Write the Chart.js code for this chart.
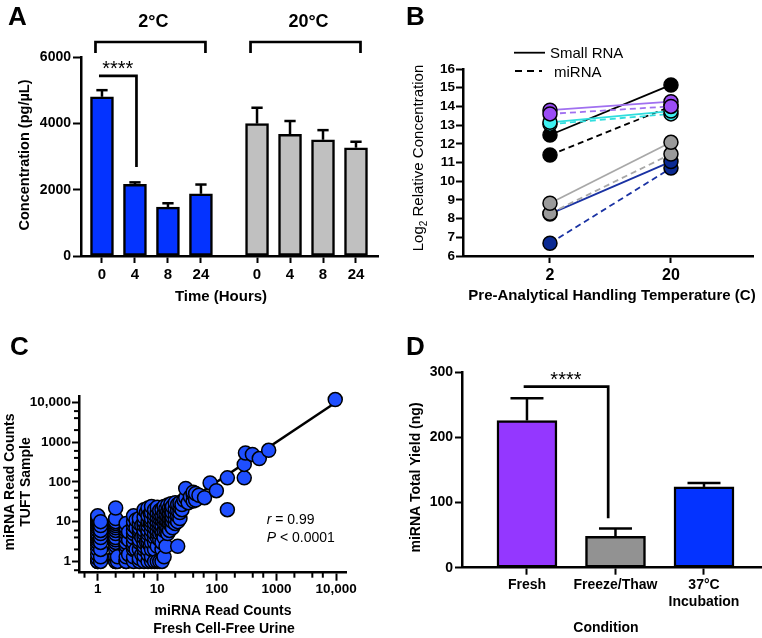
<!DOCTYPE html>
<html><head><meta charset="utf-8">
<script src="https://cdn.jsdelivr.net/npm/chart.js@4.4.1/dist/chart.umd.min.js"></script>
<style>
html,body{margin:0;padding:0;background:#fff;}
#wrap{position:relative;width:762px;height:638px;overflow:hidden;background:#fff;}
canvas{position:absolute;}
</style></head><body>
<div id="wrap">
<canvas id="cA" width="381" height="310" style="left:0;top:0"></canvas>
<canvas id="cB" width="381" height="310" style="left:381px;top:0"></canvas>
<canvas id="cC" width="381" height="318" style="left:0;top:320px"></canvas>
<canvas id="cD" width="381" height="318" style="left:381px;top:320px"></canvas>
</div>
<script>
// ---------------- DATA ----------------
// Panel A
const aHours = ['0','4','8','24'];
const aTemps = ['2°C','20°C'];
const a2C = [4800, 2160, 1475, 1875];
const a2CErr = [200, 60, 115, 280];
const a20C = [3990, 3670, 3505, 3265];
const a20CErr = [480, 400, 290, 180];

// Panel B
const bTemps = ['2','20'];
const bLegend = ['Small RNA','miRNA'];
const bSmallBlack = [12.47, 15.15];
const bMiBlack = [11.4, 14.0];
const bSmallNavy = [8.25, 11.05];
const bMiNavy = [6.68, 10.7];
const bSmallGray = [8.82, 12.08];
const bMiGray = [8.28, 11.45];
const bSmallCyan = [13.15, 13.75];
const bMiCyan = [13.05, 13.6];
const bSmallPurple = [13.8, 14.25];
const bMiPurple = [13.6, 14.0];

// Panel C (miRNA read counts: fresh cell-free urine vs TUFT sample)
const cTicks = [1, 10, 100, 1000, 10000];
const cTickLabels = ['1','10','100','1000','10,000'];
const cFresh = [
 1,1,1,1,1,1,1,1,1,1,1,1,1,1,1,1,1,1,1,1,
 1.12,1.12,1.12,1.12,1.12,1.12,1.12,1.12,1.12,
 2,2,2,2,2,2,2,2,2,2,2,2,2,2,2,2,
 2.15,2.15,
 3,3,3,3,3,3,3,3,3,3,3,
 3.3,3.3,3.3,
 4,4,4,4,4,4,4,4,4,4,4,
 4.4,4.4,4.4,
 5,5,5,5,5,5,5,5,5,5,
 5.5,5.5,5.5,
 6,6,6,6,6,6,6,6,6,6,6,6,
 6.6,6.6,6.6,
 7,7,7,7,7,7,7,7,7,7,7,
 7.6,7.6,7.6,
 8,8,8,8,8,8,8,8,8,8,8,
 9,9,9,9,9,9,9,9,9,9,
 10,10,10,10,10,10,10,10,10,10,
 11,11,11,11,11,11,11,11,
 12,12,12,12,12,12,12,12,12,
 13,13,13,13,13,13,13,
 14,14,14,14,14,14,
 15,15,15,15,15,15,
 16,16,16,16,16,
 17,17,17,17,17,
 18,18,18,18,18,
 20,20,20,20,20,
 22,22,22,22,22,
 24,24,24,24,
 26,26,28,30,30,33,36,40,40,40,44,44,50,62,77,98,150,150,288,288,302,395,515,740,9700
];
const cTuft = [
 1,1,1.2,1.5,2,2.5,3,3.5,4,4.5,5,6,7,8,9,10,11,12,13,14,
 1,1.3,2,3,4,5,6,8,10,
 1,1,1.3,2,2.5,3,3.5,4,5,6,7,8,9,10,12,22,
 1,1.3,
 1,1,1.3,2,2.5,3,4,5,6,7,9,
 1.5,3.5,5.5,
 1,1.3,2,2.4,3,4,5,6,8,10,14,
 2,7,11,
 1,1.2,2,3,3.5,5,6,7,9,12,
 1.5,4,8,
 1,1.4,2,2.4,3,4,5,6,8,10,13,20,
 3,7,17,
 1,1.5,2,3,4,5,6,8,10,14,22,
 2.5,9,16,
 1,1.3,2,3,4.5,6,8,10,12,17,24,
 1,2,3,4,5,7,9,12,15,20,
 1,2.4,4,5,6,8,10,13,17,23,
 1,3.5,5,7,9,12,15,19,
 1,2,3,5,6,8,11,14,20,
 1.3,4,6,9,12,16,24,
 2.4,6,8,11,15,21,
 5,7,10,13,18,26,
 6,9,12,16,22,
 8,11,14,19,28,
 7,10,13,17,24,
 9,12,16,21,30,
 2.4,10,14,19,27,
 12,17,23,30,
 20,27,35,40,68,30,42,33,48,55,35,51,46,40,94,60,20,126,126,275,530,490,385,620,11700
];
const cFitX = [1, 9300];
const cFitY = [1, 9300];

// Panel D
const dConditions = [['Fresh'], ['Freeze/Thaw'], ['37°C','Incubation']];
const dYield = [226, 48, 124];
const dErr = [34, 12, 6];

// ---------------- HELPERS ----------------
const FF = '"Liberation Sans", Arial, Helvetica, sans-serif';
Chart.defaults.font.family = FF;
Chart.defaults.color = '#000';
Chart.defaults.animation = false;

const gridOpts = (len) => ({display:true, drawOnChartArea:false, drawTicks:true, tickLength:len, tickWidth:2, tickColor:'#000', color:'#000', offset:false});
const borderOpts = {display:true, color:'#000', width:2.5};
const boldFont = (s) => ({family:FF, size:s, weight:'bold'});
const fixW = (w) => (s) => { s.width = w; };
const fixH = (h) => (s) => { s.height = h; };

function txt(ctx, s, x, y, font, align, base){
  ctx.font = font; ctx.textAlign = align || 'center'; ctx.textBaseline = base || 'alphabetic';
  ctx.fillStyle = '#000'; ctx.fillText(s, x, y);
}
function vtxt(ctx, s, x, y, font){
  ctx.save(); ctx.translate(x, y); ctx.rotate(-Math.PI/2);
  txt(ctx, s, 0, 0, font, 'center', 'middle'); ctx.restore();
}
function path(ctx, pts, lw, dash){
  ctx.beginPath();
  pts.forEach((p,i)=> i ? ctx.lineTo(p[0],p[1]) : ctx.moveTo(p[0],p[1]));
  ctx.lineWidth = lw; ctx.strokeStyle = '#000'; ctx.lineJoin = 'miter'; ctx.lineCap = 'butt';
  ctx.setLineDash(dash || []); ctx.stroke(); ctx.setLineDash([]);
}

const errorBars = {
  id: 'errorBars',
  afterDatasetsDraw(chart, args, opts){
    const ctx = chart.ctx, ys = chart.scales.y;
    chart.data.datasets.forEach((ds, i) => {
      if (!ds.errors) return;
      const meta = chart.getDatasetMeta(i);
      meta.data.forEach((el, j) => {
        const top = ys.getPixelForValue(ds.data[j].y + ds.errors[j]);
        const half = el.width * (opts.cap || 0.25);
        ctx.save();
        path(ctx, [[el.x, el.y], [el.x, top]], 2.5);
        path(ctx, [[el.x - half, top], [el.x + half, top]], 2.5);
        ctx.restore();
      });
    });
  }
};

// ---------------- PANEL A ----------------
const aGroupGap = 4.7;
const aPos = (g, i) => 1 + i + g * aGroupGap;
const aXs = [0,1].flatMap(g => aHours.map((h, i) => aPos(g, i)));

const extrasA = { id:'extrasA', afterDraw(chart){
  const ctx = chart.ctx, xs = chart.scales.x, ys = chart.scales.y;
  ctx.save();
  txt(ctx, 'A', 8, 25, 'bold 26px ' + FF, 'left');
  [0,1].forEach(g => {
    const x0 = xs.getPixelForValue(aPos(g,0)) - 6.5, x1 = xs.getPixelForValue(aPos(g,3)) + 4.5;
    path(ctx, [[x0,53],[x0,42],[x1,42],[x1,53]], 2.7);
    txt(ctx, aTemps[g], (x0+x1)/2 + 3, 26.5, 'bold 18px ' + FF);
  });
  const sx0 = xs.getPixelForValue(aPos(0,0)) - 3, sx1 = xs.getPixelForValue(aPos(0,1)) + 1.5;
  const sy = ys.getPixelForValue(5430), sy1 = ys.getPixelForValue(2680);
  path(ctx, [[sx0,sy],[sx1,sy],[sx1,sy1]], 2.7);
  txt(ctx, '****', (sx0+sx1)/2, sy - 0.5, '20px ' + FF);
  txt(ctx, 'Time (Hours)', 221, 301, 'bold 15px ' + FF);
  vtxt(ctx, 'Concentration (pg/µL)', 25, 155, 'bold 14.5px ' + FF);
  ctx.restore();
}};

new Chart(document.getElementById('cA'), {
  type: 'bar',
  data: { datasets: [
    { data: a2C.map((v,i)=>({x:aPos(0,i), y:v})), errors: a2CErr, backgroundColor: '#0433ff' },
    { data: a20C.map((v,i)=>({x:aPos(1,i), y:v})), errors: a20CErr, backgroundColor: '#c0c0c0' }
  ]},
  options: {
    responsive:false, animation:false, devicePixelRatio:1,
    layout: { padding: { left:0, top:57, right:3, bottom:0 } },
    datasets: { bar: { barThickness:23, borderColor:'#000', borderWidth:2.5, borderSkipped:false, grouped:false } },
    plugins: { legend:{display:false}, tooltip:{enabled:false}, errorBars:{cap:0.245} },
    scales: {
      x: { type:'linear', offset:false, min:0.364, max:9.367, grid:gridOpts(7), border:borderOpts,
           afterBuildTicks: s => { s.ticks = aXs.map(v => ({value:v})); },
           ticks: { autoSkip:false, maxRotation:0, padding:3, font:boldFont(15), callback:(v,i)=>aHours[i % aHours.length] },
           afterFit: fixH(54) },
      y: { min:0, max:6000, grid:gridOpts(8), border:borderOpts,
           ticks: { autoSkip:false, stepSize:2000, padding:2, font:boldFont(14), callback:v=>String(v) },
           afterFit: fixW(81) }
    }
  },
  plugins: [errorBars, extrasA]
});

// ---------------- PANEL B ----------------
const bSeries = [ // drawn bottom -> top
  { v:bSmallBlack,  line:'#000000', fill:'#000000', dash:false },
  { v:bMiBlack,     line:'#000000', fill:'#000000', dash:true },
  { v:bMiNavy,      line:'#1a32a3', fill:'#0b2a93', dash:true },
  { v:bSmallNavy,   line:'#1a32a3', fill:'#0b2a93', dash:false },
  { v:bMiGray,      line:'#a8a8a8', fill:'#9a9a9a', dash:true },
  { v:bSmallGray,   line:'#a8a8a8', fill:'#9a9a9a', dash:false },
  { v:bMiCyan,      line:'#2fdede', fill:'#3ef2f2', dash:true },
  { v:bSmallCyan,   line:'#2fdede', fill:'#3ef2f2', dash:false },
  { v:bSmallPurple, line:'#a070f0', fill:'#9b4cf5', dash:false },
  { v:bMiPurple,    line:'#a070f0', fill:'#9b4cf5', dash:true }
];

const extrasB = { id:'extrasB', afterDraw(chart){
  const ctx = chart.ctx;
  ctx.save();
  txt(ctx, 'B', 25, 25, 'bold 26px ' + FF, 'left');
  path(ctx, [[133,52.7],[164,52.7]], 1.8);
  path(ctx, [[134,71],[161,71]], 1.8, [7,5]);
  txt(ctx, bLegend[0], 169, 58.3, '15px ' + FF, 'left');
  txt(ctx, bLegend[1], 173, 76.7, '15px ' + FF, 'left');
  txt(ctx, 'Pre-Analytical Handling Temperature (C)', 231, 299.5, 'bold 15px ' + FF);
  // rotated y title with subscript
  ctx.translate(42.4, 158); ctx.rotate(-Math.PI/2);
  ctx.fillStyle = '#000'; ctx.textBaseline = 'alphabetic'; ctx.textAlign = 'left';
  const fMain = '15px ' + FF, fSub = '10px ' + FF;
  ctx.font = fMain; const w1 = ctx.measureText('Log').width, w3 = ctx.measureText(' Relative Concentration').width;
  ctx.font = fSub; const w2 = ctx.measureText('2').width;
  let x0 = -(w1 + w2 + w3) / 2;
  ctx.font = fMain; ctx.fillText('Log', x0, 0);
  ctx.font = fSub; ctx.fillText('2', x0 + w1, 3.5);
  ctx.font = fMain; ctx.fillText(' Relative Concentration', x0 + w1 + w2, 0);
  ctx.restore();
}};

new Chart(document.getElementById('cB'), {
  type: 'line',
  data: { datasets: bSeries.map((s, k) => ({
    data: s.v.map((y,i)=>({x:i, y:y})),
    borderColor: s.line, borderWidth: 1.8, borderDash: s.dash ? [6,4] : [],
    pointRadius: 7, pointHoverRadius: 7, pointBackgroundColor: s.fill, pointBorderColor: '#000', pointBorderWidth: 1.5,
    order: bSeries.length - k, clip: false
  }))},
  options: {
    responsive:false, animation:false, devicePixelRatio:1,
    layout: { padding: { left:0, top:69, right:9, bottom:0 } },
    plugins: { legend:{display:false}, tooltip:{enabled:false} },
    scales: {
      x: { type:'linear', min:-0.719, max:1.678, grid:gridOpts(7), border:borderOpts,
           afterBuildTicks: s => { s.ticks = bTemps.map((t,i) => ({value:i})); },
           ticks: { autoSkip:false, maxRotation:0, padding:3, font:boldFont(16), callback:(v,i)=>bTemps[i] },
           afterFit: fixH(54) },
      y: { min:6, max:16, grid:gridOpts(7), border:borderOpts,
           ticks: { autoSkip:false, stepSize:1, padding:1, font:boldFont(13.5), callback:v=>String(v) },
           afterFit: fixW(82) }
    }
  },
  plugins: [extrasB]
});

// ---------------- PANEL C ----------------
const extrasC = { id:'extrasC', afterDraw(chart){
  const ctx = chart.ctx, xs = chart.scales.x, ys = chart.scales.y, ca = chart.chartArea;
  ctx.save();
  // minor ticks
  for (let d = -1; d <= 4; d++) {
    [2,4,6].forEach(m => {
      const v = m * Math.pow(10, d);
      if (v > xs.min && v < xs.max) { const px = xs.getPixelForValue(v); path(ctx, [[px, ca.bottom], [px, ca.bottom + 5]], 2); }
      if (v > ys.min && v < ys.max) { const py = ys.getPixelForValue(v); path(ctx, [[ca.left, py], [ca.left - 5, py]], 2); }
    });
  }
  txt(ctx, 'C', 10, 35, 'bold 26px ' + FF, 'left');
  vtxt(ctx, 'miRNA Read Counts', 10, 162, 'bold 14px ' + FF);
  vtxt(ctx, 'TUFT Sample', 26.5, 162, 'bold 14px ' + FF);
  txt(ctx, 'miRNA Read Counts', 223, 295, 'bold 14px ' + FF);
  txt(ctx, 'Fresh Cell-Free Urine', 224, 313, 'bold 14px ' + FF);
  // statistics
  ctx.font = 'italic 14px ' + FF; const wr = ctx.measureText('r').width, wp = ctx.measureText('P').width;
  txt(ctx, 'r', 266.7, 204, 'italic 14px ' + FF, 'left');
  txt(ctx, ' = 0.99', 266.7 + wr, 204, '14px ' + FF, 'left');
  txt(ctx, 'P', 266.7, 221.7, 'italic 14px ' + FF, 'left');
  txt(ctx, ' < 0.0001', 266.7 + wp, 221.7, '14px ' + FF, 'left');
  ctx.restore();
}};

new Chart(document.getElementById('cC'), {
  type: 'scatter',
  data: { datasets: [
    { type:'scatter', data: cFresh.map((x,i)=>({x:x, y:cTuft[i]})), backgroundColor:'#1f4fff', borderColor:'#000',
      pointRadius:7, pointHoverRadius:7, borderWidth:1.5, order:1, clip:false },
    { type:'line', data: cFitX.map((x,i)=>({x:x, y:cFitY[i]})), borderColor:'#000', borderWidth:2.5,
      pointRadius:0, order:2, clip:false }
  ]},
  options: {
    responsive:false, animation:false, devicePixelRatio:1,
    layout: { padding: { left:0, top:76, right:34.3, bottom:0 } },
    plugins: { legend:{display:false}, tooltip:{enabled:false} },
    scales: {
      x: { type:'logarithmic', min:0.485, max:15100, grid:gridOpts(8), border:borderOpts,
           afterBuildTicks: s => { s.ticks = cTicks.map(v => ({value:v})); },
           ticks: { autoSkip:false, maxRotation:0, padding:0, font:boldFont(13.5), callback:(v,i)=>cTickLabels[i] },
           afterFit: fixH(65.3) },
      y: { type:'logarithmic', min:0.52, max:14400, grid:gridOpts(7), border:borderOpts,
           afterBuildTicks: s => { s.ticks = cTicks.map(v => ({value:v})); },
           ticks: { autoSkip:false, padding:1, font:boldFont(13.5), callback:(v,i)=>cTickLabels[i] },
           afterFit: fixW(79) }
    }
  },
  plugins: [extrasC]
});

// ---------------- PANEL D ----------------
const extrasD = { id:'extrasD', afterDraw(chart){
  const ctx = chart.ctx, xs = chart.scales.x, ys = chart.scales.y;
  ctx.save();
  txt(ctx, 'D', 25, 35, 'bold 26px ' + FF, 'left');
  const x0 = xs.getPixelForValue(0) - 3.3, x1 = xs.getPixelForValue(1) - 7.3;
  const y0 = ys.getPixelForValue(278), y1 = ys.getPixelForValue(76);
  path(ctx, [[x0,y0],[x1,y0],[x1,y1]], 2.7);
  txt(ctx, '****', (x0+x1)/2, y0 - 0.5, '20px ' + FF);
  txt(ctx, 'Condition', 225, 311.7, 'bold 14px ' + FF);
  vtxt(ctx, 'miRNA Total Yield (ng)', 35.5, 157.5, 'bold 14px ' + FF);
  ctx.restore();
}};

new Chart(document.getElementById('cD'), {
  type: 'bar',
  data: { datasets: [
    { data: dYield.map((v,i)=>({x:i, y:v})), errors: dErr, backgroundColor: ['#9437ff','#929292','#0433ff'] }
  ]},
  options: {
    responsive:false, animation:false, devicePixelRatio:1,
    layout: { padding: { left:0, top:52.3, right:1, bottom:0 } },
    datasets: { bar: { barThickness:60, borderColor:'#000', borderWidth:2.5, borderSkipped:false, grouped:false } },
    plugins: { legend:{display:false}, tooltip:{enabled:false}, errorBars:{cap:0.275} },
    scales: {
      x: { type:'linear', offset:false, min:-0.734, max:2.644, grid:gridOpts(7), border:borderOpts,
           afterBuildTicks: s => { s.ticks = dConditions.map((c,i) => ({value:i})); },
           ticks: { autoSkip:false, maxRotation:0, padding:2, font:boldFont(14), callback:(v,i)=>dConditions[i] },
           afterFit: fixH(70.3) },
      y: { min:0, max:300, grid:gridOpts(7), border:borderOpts,
           ticks: { autoSkip:false, stepSize:100, padding:2, font:boldFont(14), callback:v=>String(v) },
           afterFit: fixW(81) }
    }
  },
  plugins: [errorBars, extrasD]
});
</script>
</body></html>
